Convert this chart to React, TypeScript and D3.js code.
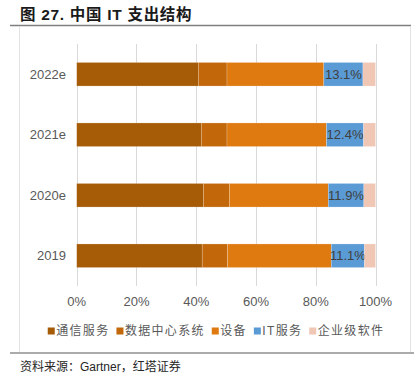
import React, { useEffect, useRef } from 'react';
import * as d3 from 'd3';

// years (top to bottom)
const years = ['2022e', '2021e', '2020e', '2019'];
const segments = ['通信服务', '数据中心系统', '设备', 'IT服务', '企业级软件'];
const segColors = ['#A65B07', '#C2680B', '#DF7A11', '#5B9BD5', '#F0C6B5'];

// share of each segment, in %, per year (same order as years)
const telecom = [40.7, 41.7, 42.4, 42.0];
const dataCenter = [9.6, 8.6, 8.7, 8.5];
const devices = [32.4, 33.3, 33.1, 34.7];
const itServices = [13.1, 12.4, 11.9, 11.1];
const software = [4.2, 4.0, 3.9, 3.7];

const xTicks = [0, 20, 40, 60, 80, 100];

const FONT = "'Liberation Sans', Arial, 'Noto Sans CJK SC', sans-serif";

export default function App() {
  const svgRef = useRef<SVGSVGElement>(null);

  useEffect(() => {
    if (!svgRef.current) return;
    const svg = d3.select(svgRef.current);
    svg.selectAll('*').remove();

    // title
    svg.append('text')
      .attr('x', 20)
      .attr('y', 20)
      .attr('font-size', '15.5px')
      .attr('font-weight', 'bold')
      .attr('font-family', FONT)
      .attr('letter-spacing', '0.7px')
      .attr('fill', '#1a1a1a')
      .text('图 27. 中国 IT 支出结构');

    svg.append('line')
      .attr('x1', 10).attr('x2', 411)
      .attr('y1', 25.5).attr('y2', 25.5)
      .attr('stroke', '#7f7f7f')
      .attr('stroke-width', 1.5);

    // frame
    [19.5, 410.5].forEach(x => {
      svg.append('line')
        .attr('x1', x).attr('x2', x)
        .attr('y1', 27).attr('y2', 352)
        .attr('stroke', '#e3e3e3');
    });

    svg.append('line')
      .attr('x1', 10).attr('x2', 414)
      .attr('y1', 353).attr('y2', 353)
      .attr('stroke', '#595959')
      .attr('stroke-width', 1.2);

    // source
    svg.append('text')
      .attr('x', 20)
      .attr('y', 371)
      .attr('font-size', '12px')
      .attr('font-family', FONT)
      .attr('fill', '#262626')
      .text('资料来源：Gartner，红塔证券');

    const x = d3.scaleLinear().domain([0, 100]).range([76.7, 375.5]);
    const y = d3.scaleBand<string>()
      .domain(years)
      .range([44, 286])
      .paddingInner(0.61)
      .paddingOuter(0.305);

    // grid
    svg.append('g')
      .selectAll('line')
      .data(xTicks)
      .join('line')
      .attr('x1', d => Math.round(x(d)) + 0.5)
      .attr('x2', d => Math.round(x(d)) + 0.5)
      .attr('y1', 44)
      .attr('y2', 286)
      .attr('stroke', '#d9d9d9')
      .attr('stroke-width', 1);

    // x tick labels
    svg.append('g')
      .selectAll('text')
      .data(xTicks)
      .join('text')
      .attr('x', d => x(d))
      .attr('y', 306)
      .attr('text-anchor', 'middle')
      .attr('font-size', '13px')
      .attr('font-family', FONT)
      .attr('fill', '#595959')
      .text(d => `${d}%`);

    // y labels
    svg.append('g')
      .selectAll('text')
      .data(years)
      .join('text')
      .attr('x', 66)
      .attr('y', d => (y(d) || 0) + y.bandwidth() / 2)
      .attr('dy', '0.35em')
      .attr('text-anchor', 'end')
      .attr('font-size', '13px')
      .attr('font-family', FONT)
      .attr('fill', '#595959')
      .text(d => d);

    // stacked bars
    const rows = years.map((yr, i) => ({
      year: yr,
      values: [telecom[i], dataCenter[i], devices[i], itServices[i], software[i]]
    }));

    const bars = svg.append('g');
    rows.forEach(r => {
      let acc = 0;
      r.values.forEach((v, j) => {
        const x0 = x(acc);
        const x1 = x(Math.min(100, acc + v));
        bars.append('rect')
          .attr('x', x0)
          .attr('y', y(r.year) || 0)
          .attr('width', Math.max(0, x1 - x0))
          .attr('height', y.bandwidth())
          .attr('fill', segColors[j])
          .attr('stroke', '#ffffff')
          .attr('stroke-opacity', 0.35)
          .attr('stroke-width', 0.6);
        if (j === 3) {
          bars.append('text')
            .attr('x', (x0 + x1) / 2)
            .attr('y', (y(r.year) || 0) + y.bandwidth() / 2)
            .attr('dy', '0.36em')
            .attr('text-anchor', 'middle')
            .attr('font-size', '13px')
            .attr('font-family', FONT)
            .attr('fill', '#404040')
            .text(`${v.toFixed(1)}%`);
        }
        acc += v;
      });
    });

    // legend, centred under the frame
    const legend = svg.append('g');
    const items = segments.map((s, i) => {
      const g = legend.append('g');
      g.append('rect')
        .attr('x', 0).attr('y', -3.5)
        .attr('width', 7).attr('height', 7)
        .attr('fill', segColors[i]);
      const t = g.append('text')
        .attr('x', 8.5)
        .attr('dy', '0.36em')
        .attr('font-size', '12px')
        .attr('font-family', FONT)
        .attr('letter-spacing', '1.3px')
        .attr('fill', '#595959')
        .text(s);
      const w = 8.5 + ((t.node() as SVGTextElement).getComputedTextLength() || 0);
      return { g, w };
    });
    const gap = 7;
    const total = d3.sum(items, d => d.w) + gap * (items.length - 1);
    let lx = 216 - total / 2;
    items.forEach(it => {
      it.g.attr('transform', `translate(${lx},331)`);
      lx += it.w + gap;
    });
  }, []);

  return (
    <svg
      ref={svgRef}
      width={417}
      height={386}
      style={{ position: 'absolute', left: 0, top: 0, background: '#ffffff' }}
    />
  );
}
